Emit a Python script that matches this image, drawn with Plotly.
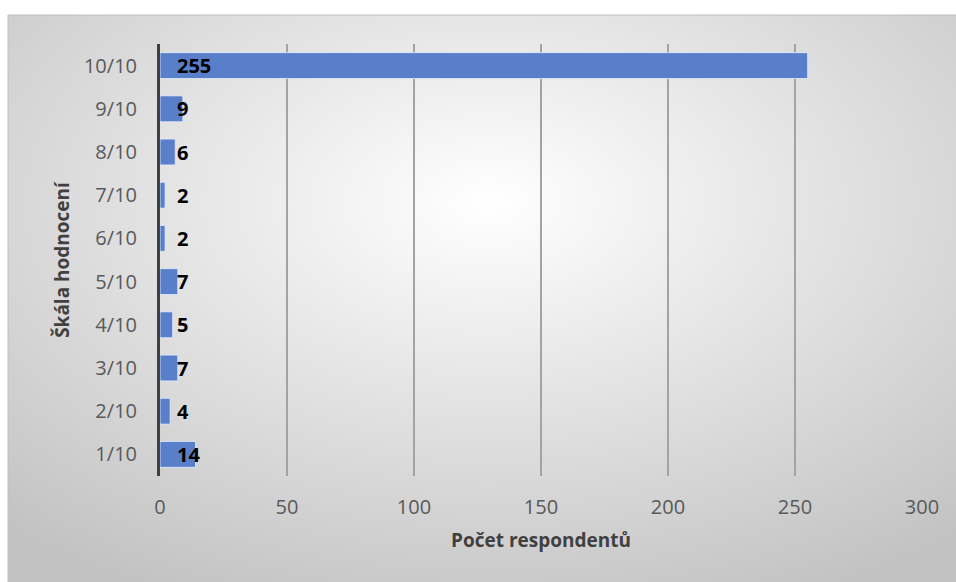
import base64
import plotly.graph_objects as go

# rating scale (bottom to top) and number of respondents
categories = ["1/10", "2/10", "3/10", "4/10", "5/10", "6/10", "7/10", "8/10", "9/10", "10/10"]
counts = [14, 4, 7, 5, 7, 2, 2, 6, 9, 255]
x_ticks = [0, 50, 100, 150, 200, 250, 300]

W, H = 956, 582
L, R, T, B = 160, 34, 44, 106
pw, ph = W - L - R, H - T - B

# radial grey background like the Office chart area
svg = (
    '<svg xmlns="http://www.w3.org/2000/svg" width="962" height="585">'
    '<defs><radialGradient id="g" cx="0.5" cy="0.32" r="0.75">'
    '<stop offset="0" stop-color="#ffffff"/>'
    '<stop offset="1" stop-color="#c2c2c2"/>'
    '</radialGradient></defs>'
    '<rect x="0" y="0" width="962" height="585" fill="url(#g)"/>'
    '</svg>'
)
bg_src = "data:image/svg+xml;base64," + base64.b64encode(svg.encode()).decode()


def px(x):
    return (x - L) / pw


def py(y):
    return (H - B - y) / ph


fig = go.Figure()
fig.add_trace(go.Bar(
    x=counts,
    y=categories,
    orientation="h",
    width=0.6,
    marker=dict(color="#5a7fca", line=dict(color="rgba(230,238,255,0.8)", width=1)),
    hoverinfo="x+y",
))

for c, v in zip(categories, counts):
    fig.add_annotation(
        x=0, y=c, xref="x", yref="y",
        text=f"<b>{v}</b>", showarrow=False,
        xanchor="left", yanchor="middle", xshift=15,
        font=dict(family="Open Sans", size=20, color="#000000"),
    )

fig.add_layout_image(
    source=bg_src, xref="paper", yref="paper",
    x=px(8), y=py(15), sizex=px(970) - px(8), sizey=py(15) - py(600),
    xanchor="left", yanchor="top", sizing="stretch", layer="below",
)
fig.add_shape(
    type="rect", xref="paper", yref="paper",
    x0=px(8), y0=py(15), x1=px(970), y1=py(600),
    line=dict(color="#bfbfbf", width=1), layer="below",
)

fig.update_layout(
    width=W, height=H,
    margin=dict(l=L, r=R, t=T, b=B),
    paper_bgcolor="#ffffff",
    plot_bgcolor="rgba(0,0,0,0)",
    font=dict(family="Open Sans", color="#595959"),
    showlegend=False,
    xaxis=dict(
        range=[0, 300], tickvals=x_ticks,
        showgrid=True, gridcolor="#a3a3a3", gridwidth=1.5,
        zeroline=False, showline=False,
        ticks="outside", ticklen=13, tickcolor="rgba(0,0,0,0)",
        tickfont=dict(size=20, color="#595959"),
        title=dict(text="<b>Počet respondentů</b>", standoff=14,
                   font=dict(size=19, color="#404040")),
    ),
    yaxis=dict(
        categoryorder="array", categoryarray=categories,
        showgrid=False, zeroline=False,
        showline=True, linecolor="#404040", linewidth=3,
        ticks="outside", ticklen=16, tickcolor="rgba(0,0,0,0)",
        tickfont=dict(size=20, color="#595959"),
        title=dict(text="<b>Škála hodnocení</b>", standoff=10,
                   font=dict(size=19, color="#404040")),
    ),
)

fig.write_html("out.html", config={"displayModeBar": False},
               post_script="document.body.style.margin='0';")
